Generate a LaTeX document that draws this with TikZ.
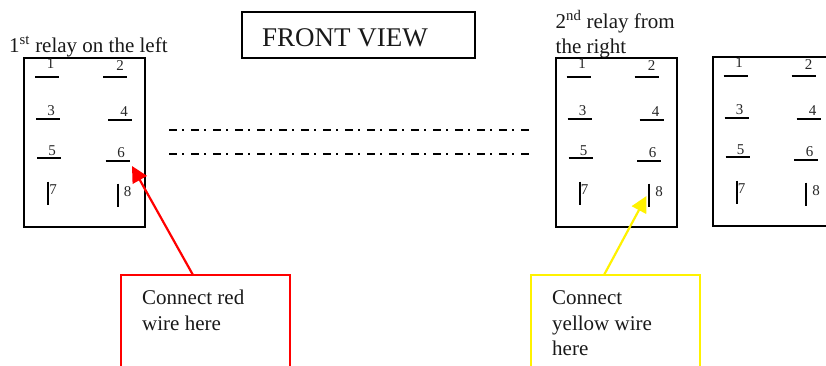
\documentclass[tikz,border=0pt]{standalone}
\usepackage{fontspec}
\setmainfont{Liberation Serif}
\usetikzlibrary{arrows.meta}
\tikzset{
  wire/.style={line width=2pt,black},
  relaybox/.style={draw=black,line width=2pt,rectangle,anchor=north west,inner sep=0pt,outer sep=0pt,minimum width=121pt,minimum height=169pt},
  pinlabel/.style={inner sep=0pt,font=\fontsize{15}{15}\selectfont,anchor=base,text=black!85},
  txt/.style={inner sep=0pt,anchor=base west,font=\fontsize{21}{21}\selectfont,text=black!90},
  callout/.style={rectangle,anchor=north west,inner sep=0pt,outer sep=0pt,line width=2pt,minimum width=169pt,minimum height=120pt},
  pointer/.style={line width=2.2pt,-{Triangle[length=16pt,width=16pt]}},
  chain/.style={line width=1.5pt,dash pattern=on 8pt off 5pt on 2pt off 7pt}
}
\newcommand{\relay}[3]{%
  \node[relaybox] (#1) at (#2,#3) {};
  \begin{scope}[shift={(#2,#3)}]
    \draw[wire] (11,19) -- (35,19);
    \draw[wire] (79,19) -- (103,19);
    \draw[wire] (12,61.5) -- (36,61.5);
    \draw[wire] (84,62.5) -- (108,62.5);
    \draw[wire] (13,100.5) -- (37,100.5);
    \draw[wire] (81.5,103) -- (105.5,103);
    \draw[wire] (24,124) -- (24,147);
    \draw[wire] (93.5,126) -- (93.5,149);
    \node[pinlabel] (#1p1) at (26.5,11) {1};
    \node[pinlabel] (#1p2) at (96,13) {2};
    \node[pinlabel] (#1p3) at (27,58) {3};
    \node[pinlabel] (#1p4) at (100,59) {4};
    \node[pinlabel] (#1p5) at (28,98) {5};
    \node[pinlabel] (#1p6) at (97,100) {6};
    \node[pinlabel] (#1p7) at (29,137) {7};
    \node[pinlabel] (#1p8) at (103.5,139) {8};
  \end{scope}}
\begin{document}
\begin{tikzpicture}[x=1pt,y=-1pt]
\useasboundingbox (0,0) rectangle (826,365);
\clip (0,0) rectangle (826,365);
\relay{ra}{24}{57.5}
\relay{rb}{555.5}{57.5}
\relay{rc}{712.5}{56.5}
\node[draw=black,line width=1.7pt,rectangle,anchor=north west,inner sep=0pt,outer sep=0pt,minimum width=233pt,minimum height=46pt] (fv) at (242,12) {};
\node[inner sep=0pt,anchor=base west,font=\fontsize{27}{27}\selectfont,text=black!90] (fvt) at (262,46) {FRONT VIEW};
\node[txt] (t1) at (9,52) {1\textsuperscript{st} relay on the left};
\node[txt] (t2) at (555.5,28) {2\textsuperscript{nd} relay from};
\node[txt] (t3) at (555.5,53) {the right};
\coordinate (c1a) at (169,130);
\coordinate (c1b) at (530,130);
\coordinate (c2a) at (169,154);
\coordinate (c2b) at (530,154);
\draw[chain] (c1a) -- (c1b);
\draw[chain] (c2a) -- (c2b);
\node[callout,draw=red] (cr) at (121,275) {};
\node[callout,draw=yellow] (cy) at (531,275) {};
\node[txt] (r1) at (142,304) {Connect red};
\node[txt] (r2) at (142,330) {wire here};
\node[txt] (y1) at (552,304) {Connect};
\node[txt] (y2) at (552,330) {yellow wire};
\node[txt] (y3) at (552,355) {here};
\coordinate (rt) at (132,166);
\coordinate (yt) at (646.5,196);
\draw[pointer,red] (cr.north west) ++(72,0) -- (rt);
\draw[pointer,yellow] (cy.north west) ++(73,0) -- (yt);
\end{tikzpicture}
\end{document}
